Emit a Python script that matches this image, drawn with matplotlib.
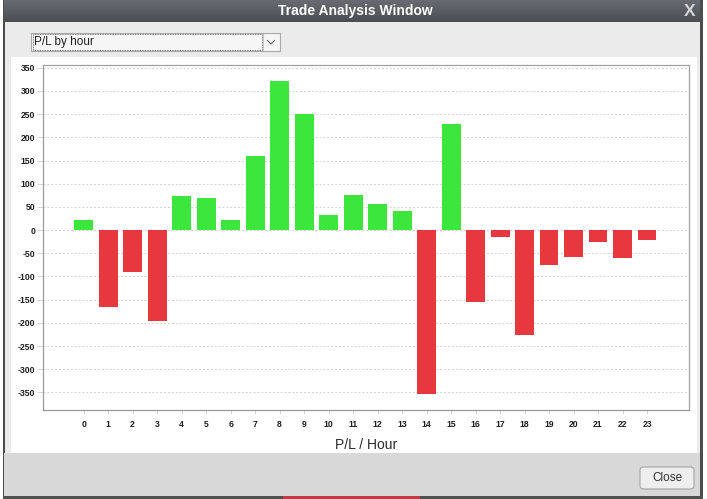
"""
P/L by hour bar chart, drawn inside a mock "Trade Analysis Window" frame.

Run:
    python plot.py
Output:
    out.png
"""

import numpy as np
import matplotlib
matplotlib.use("Agg")
import matplotlib.pyplot as plt
from matplotlib.patches import Rectangle, FancyBboxPatch

# --- data ---
hours = list(range(24))
hour_labels = [str(h) for h in hours]
pnl = [22, -165, -90, -197, 74, 70, 22, 159, 322, 251, 32, 75,
       57, 41, -353, 228, -155, -16, -227, -75, -58, -26, -61, -21]
y_ticks = [-350, -300, -250, -200, -150, -100, -50, 0, 50, 100, 150, 200, 250, 300, 350]

WINDOW_TITLE = "Trade Analysis Window"
DROPDOWN_TEXT = "P/L by hour"
X_LABEL = "P/L / Hour"

GREEN = "#3ce63c"
RED = "#e8383f"
W, H = 707, 499

plt.rcParams["font.family"] = ["Liberation Sans", "DejaVu Sans"]
TICK_FONT = ["Liberation Sans Narrow", "Liberation Sans", "DejaVu Sans"]


def fx(x):
    return x / W


def fy(y):
    return 1 - y / H


def rect(fig, x0, y0, x1, y1, zorder=-5, **kw):
    """Rectangle given in screen pixels (top-left origin), drawn under the axes."""
    r = Rectangle((fx(x0), fy(y1)), (x1 - x0) / W, (y1 - y0) / H,
                  transform=fig.transFigure, zorder=zorder, **kw)
    fig.add_artist(r)
    return r


def main():
    fig = plt.figure(figsize=(W / 100, H / 100), dpi=100)
    fig.patch.set_facecolor("white")

    # --- window chrome ---
    rect(fig, 4, 0, 703, 499, facecolor="#ebebeb", edgecolor="none", zorder=-10)
    rect(fig, 3, 0, 5, 499, facecolor="#4c4c4c", edgecolor="none")
    rect(fig, 700, 0, 703, 499, facecolor="#4c4c4c", edgecolor="none")
    rect(fig, 4, 453, 700, 496, facecolor="#d8d8d8", edgecolor="none")
    rect(fig, 3, 496, 703, 499, facecolor="#505050", edgecolor="none")
    rect(fig, 283, 496, 420, 499, facecolor="#c23a48", edgecolor="none")
    rect(fig, 11, 57, 697, 453, facecolor="white", edgecolor="none")

    # title bar gradient
    tax = fig.add_axes([fx(4), fy(22), 696 / W, 22 / H])
    grad = np.linspace(0, 1, 32).reshape(-1, 1)
    tax.imshow(grad, aspect="auto", cmap=matplotlib.colors.LinearSegmentedColormap.from_list(
        "tb", ["#686b71", "#4a4d52"]), extent=[0, 1, 0, 1])
    tax.set_axis_off()
    fig.text(fx(355), fy(11), WINDOW_TITLE, color="white", fontsize=10,
             fontweight="bold", ha="center", va="center", zorder=5)
    fig.text(fx(690), fy(11), "X", color="#d4d5d8", fontsize=12.5,
             fontweight="bold", ha="center", va="center", zorder=5)

    # dropdown
    rect(fig, 31, 33, 280, 51, facecolor="#f6f6f6", edgecolor="#a9a9a9", linewidth=0.8)
    rect(fig, 32.5, 34.5, 262, 49.5, facecolor="none", edgecolor="#555555",
         linewidth=0.6, linestyle=(0, (1, 1)))
    fig.add_artist(plt.Line2D([fx(263), fx(263)], [fy(34), fy(50)],
                              transform=fig.transFigure, color="#c8c8c8", linewidth=0.8))
    fig.text(fx(34), fy(42.5), DROPDOWN_TEXT, color="#222222", fontsize=8.5,
             ha="left", va="center")
    fig.add_artist(plt.Line2D([fx(267.5), fx(271), fx(274.5)], [fy(40.5), fy(44), fy(40.5)],
                              transform=fig.transFigure, color="#666666", linewidth=0.8))

    # close button
    btn = FancyBboxPatch((fx(640), fy(489)), 54 / W, 22 / H,
                         boxstyle="round,pad=0,rounding_size=0.006",
                         transform=fig.transFigure, facecolor="#eeeeee",
                         edgecolor="#a5a5a5", linewidth=0.8)
    fig.add_artist(btn)
    fig.text(fx(667), fy(478), "Close", color="#333333", fontsize=8.5,
             ha="center", va="center")

    # --- chart ---
    ax = fig.add_axes([fx(42.7), fy(410), (688.7 - 42.7) / W, (410 - 65) / H])
    colors = [GREEN if v >= 0 else RED for v in pnl]
    ax.bar(hours, pnl, width=0.77, color=colors, zorder=3)

    ax.set_xlim(-1.67, 24.7)
    ax.set_ylim(-388, 356)
    ax.set_xticks(hours)
    ax.set_xticklabels(hour_labels)
    ax.set_yticks(y_ticks)
    ax.set_yticklabels([str(v) for v in y_ticks])

    for lab in ax.get_xticklabels() + ax.get_yticklabels():
        lab.set_family(TICK_FONT)
        lab.set_fontsize(6.2)
        lab.set_fontweight("bold")
        lab.set_color("#1e1e1e")
    ax.tick_params(axis="y", length=4, width=0.6, color="#cfcfcf", pad=1.5)
    ax.tick_params(axis="x", length=3, width=0.6, color="#cfcfcf", pad=4)

    ax.grid(axis="y", color="#d2d2d2", linewidth=0.7, linestyle=(0, (2, 2)), zorder=0)
    for s in ax.spines.values():
        s.set_color("#a3a3a3")
        s.set_linewidth(0.9)
    ax.spines["left"].set_color("#999999")
    ax.spines["bottom"].set_color("#999999")

    ax.set_xlabel(X_LABEL, fontsize=10, color="#2a2a2a", labelpad=7)

    fig.savefig("out.png", dpi=100)
    plt.close(fig)


if __name__ == "__main__":
    main()
